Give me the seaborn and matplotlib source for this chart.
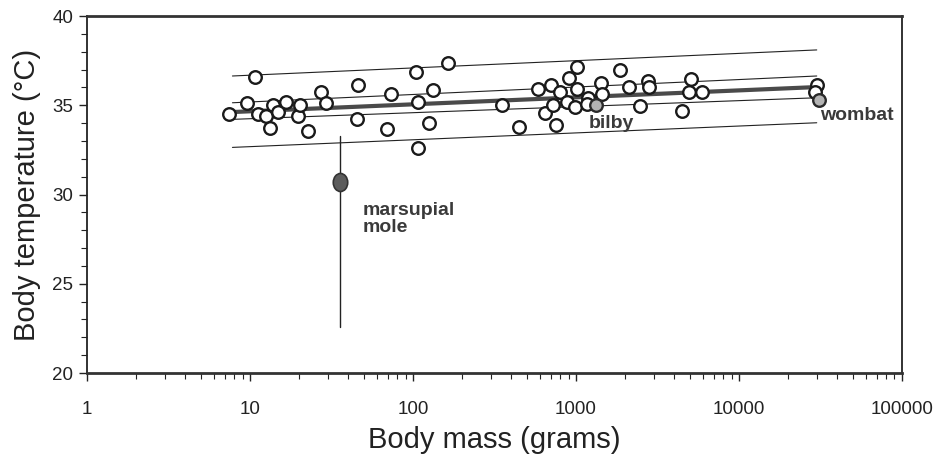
import numpy as np
import pandas as pd
import matplotlib
matplotlib.use("Agg")
import matplotlib.pyplot as plt
from matplotlib.markers import MarkerStyle
from matplotlib.transforms import Affine2D
from matplotlib.ticker import LogLocator, MultipleLocator, NullFormatter
import seaborn as sns

# --- data ---------------------------------------------------------------------

# marsupials (open circles): body mass (g) and body temperature (deg C)
mass = [7.4, 9.6, 10.7, 11.2, 12.5, 13.3, 13.8, 14.9, 16.6, 19.6, 20.3, 22.6,
        27.3, 29.3, 45.2, 46.2, 69.6, 73, 105, 108, 108, 126, 133, 165,
        350, 449, 587, 645, 698, 726, 754, 797, 885, 902, 1018, 1018, 986,
        1189, 1162, 1419, 1450, 1875, 2100, 2480, 2778, 2818, 4450, 5055,
        4935, 5900, 30300, 29200]
temp = [34.51, 35.11, 36.57, 34.51, 34.40, 33.71, 35.01, 34.64, 35.20, 34.40,
        35.01, 33.57, 35.76, 35.11, 34.21, 36.13, 33.65, 35.61, 36.85, 32.59,
        35.18, 33.99, 35.85, 37.38, 34.99, 33.78, 35.91, 34.55, 36.11, 35.00,
        33.88, 35.76, 35.20, 36.51, 37.17, 35.89, 34.93, 35.42, 35.05, 36.23,
        35.61, 36.95, 36.01, 34.97, 36.34, 36.04, 34.68, 36.47, 35.76, 35.76,
        36.11, 35.76]

# highlighted species (shaded circles)
named_species = ["bilby", "wombat"]
named_mass = [1327, 30960]
named_temp = [35.01, 35.29]

# marsupial mole: mean and range
mole_mass = 35.4
mole_temp = 30.7
mole_low = 22.6
mole_high = 33.3

# regression line with confidence and prediction limits (end points)
line_mass = [7.8, 30000]
fit_temp = [34.62, 36.02]
ci_upper = [35.14, 36.64]
ci_lower = [34.21, 35.42]
pi_upper = [36.64, 38.10]
pi_lower = [32.64, 34.02]

xtick_vals = [1, 10, 100, 1000, 10000, 100000]
xtick_labels = ["1", "10", "100", "1000", "10000", "100000"]
ytick_vals = [20, 25, 30, 35, 40]

# --- plot ---------------------------------------------------------------------

sns.set_style("ticks")
plt.rcParams["font.family"] = ["Liberation Sans", "DejaVu Sans"]

fig = plt.figure(figsize=(9.37, 4.55), dpi=100)
ax = fig.add_axes([0.0929, 0.1802, 0.8697, 0.7846])

ink = "#222222"

lines_df = pd.DataFrame({"mass": line_mass, "fit": fit_temp,
                         "ci_u": ci_upper, "ci_l": ci_lower,
                         "pi_u": pi_upper, "pi_l": pi_lower})
for col in ["ci_u", "ci_l", "pi_u", "pi_l"]:
    sns.lineplot(data=lines_df, x="mass", y=col, ax=ax, color=ink,
                 linewidth=0.8, zorder=2)
sns.lineplot(data=lines_df, x="mass", y="fit", ax=ax, color="#4a4a4a",
             linewidth=3.0, zorder=2)

# marsupial mole range + elliptical marker
ax.plot([mole_mass, mole_mass], [mole_low, mole_high], color=ink,
        linewidth=1.0, zorder=2)
mole_marker = MarkerStyle("o", transform=Affine2D().scale(0.8, 1.0))
ax.plot([mole_mass], [mole_temp], linestyle="none", marker=mole_marker,
        markersize=13, markerfacecolor="#5c5c5c", markeredgecolor="#333333",
        markeredgewidth=1.2, zorder=4)

sns.scatterplot(x=mass, y=temp, ax=ax, marker="o", s=82, facecolor="white",
                edgecolor="#1a1a1a", linewidth=1.7, zorder=3)
sns.scatterplot(x=named_mass, y=named_temp, ax=ax, marker="o", s=82,
                facecolor="#b4b4b4", edgecolor="#2a2a2a", linewidth=1.7,
                zorder=3)

ax.set_xscale("log")
ax.set_xlim(1, 100000)
ax.set_ylim(20, 40)
ax.set_xticks(xtick_vals, labels=xtick_labels)
ax.xaxis.set_minor_locator(LogLocator(base=10, subs=np.arange(2, 10)))
ax.xaxis.set_minor_formatter(NullFormatter())
ax.set_yticks(ytick_vals)
ax.yaxis.set_minor_locator(MultipleLocator(1))

ax.tick_params(axis="both", which="major", direction="out", length=6,
               width=1.0, color=ink, labelsize=13.5, labelcolor=ink)
ax.tick_params(axis="both", which="minor", direction="out", length=4,
               width=0.8, color=ink)
ax.tick_params(axis="x", which="major", pad=14)
ax.tick_params(axis="y", which="major", pad=4)

for side in ["left", "right"]:
    ax.spines[side].set_linewidth(1.3)
    ax.spines[side].set_color(ink)
for side in ["top", "bottom"]:
    ax.spines[side].set_linewidth(2.0)
    ax.spines[side].set_color("#333333")

ax.set_xlabel("Body mass (grams)", fontsize=21, color=ink, labelpad=6)
ax.set_ylabel("Body temperature (\u00b0C)", fontsize=21, color=ink,
              labelpad=8)

# species labels
label_kw = dict(fontsize=14, fontweight="bold", color="#3a3a3a")
ax.text(49, 29.6, "marsupial\nmole", ha="left", va="top", linespacing=1.05,
        **label_kw)
ax.text(1200, 34.0, named_species[0], ha="left", va="center", **label_kw)
ax.text(31400, 34.45, named_species[1], ha="left", va="center", **label_kw)

fig.savefig("out.png", dpi=100)
